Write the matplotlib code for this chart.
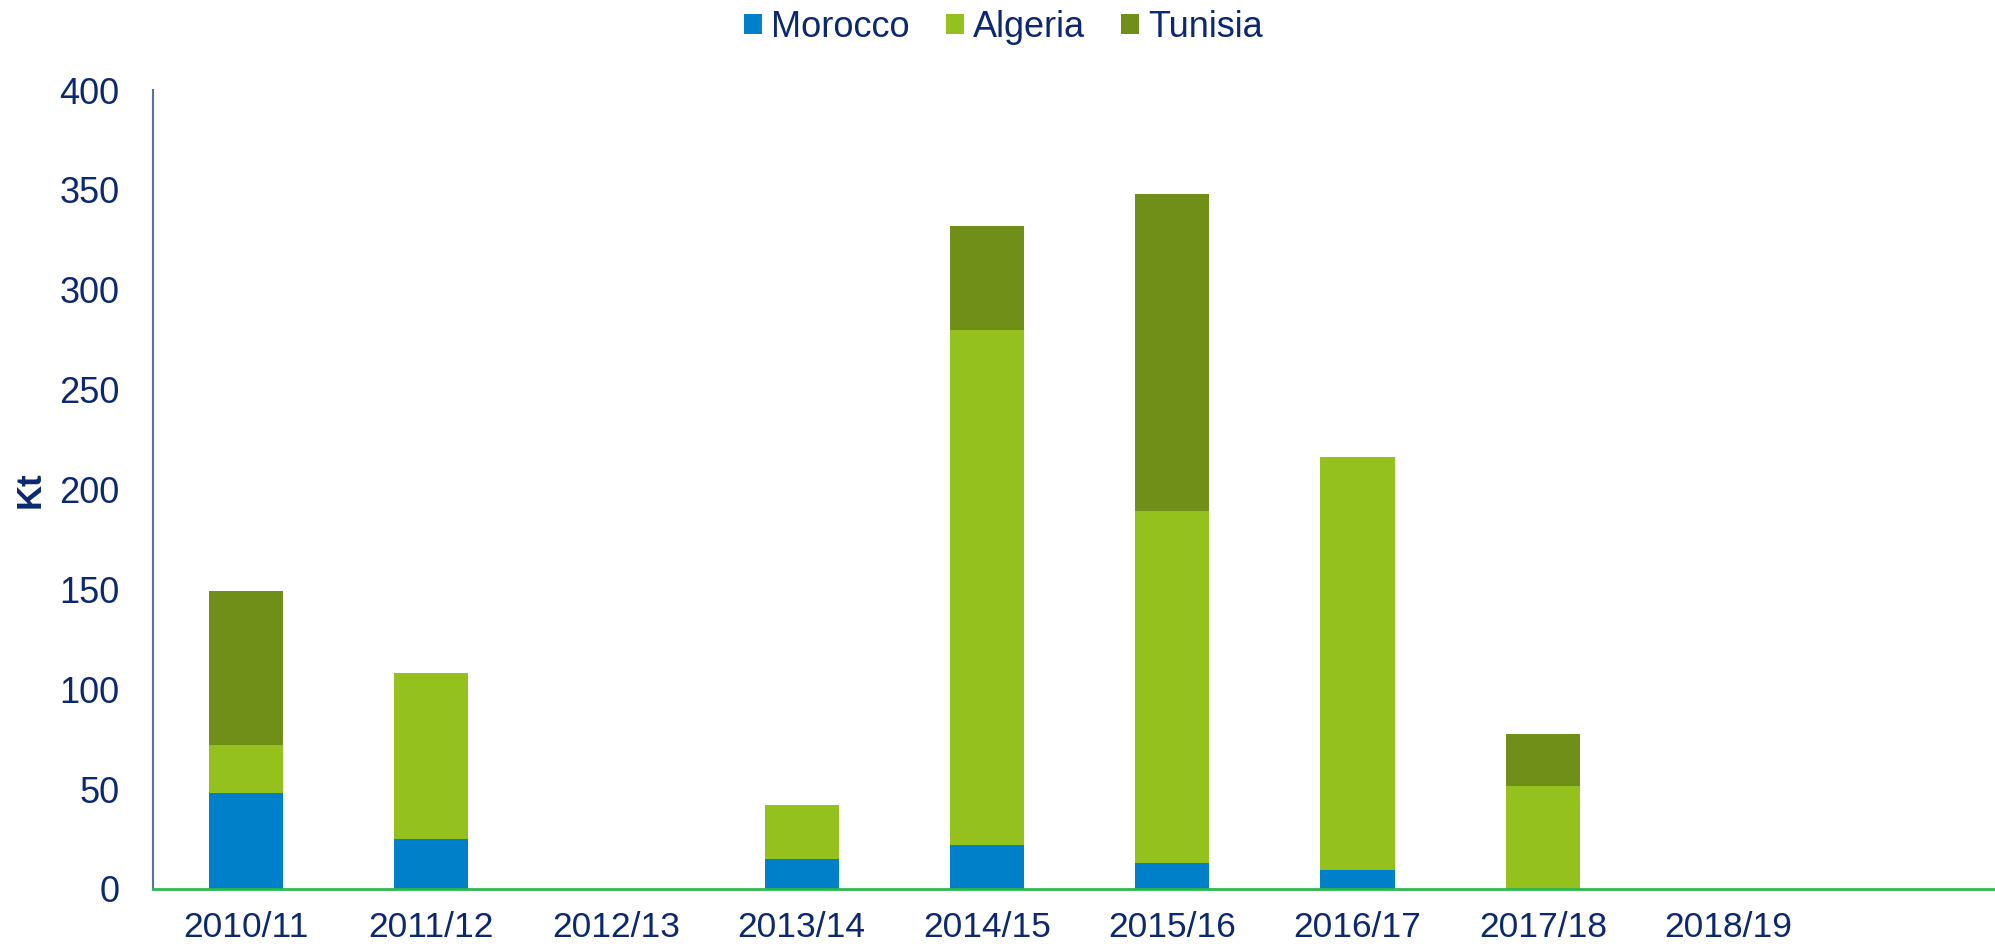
import matplotlib
matplotlib.use("Agg")
import matplotlib.pyplot as plt
import numpy as np

plt.rcParams["font.family"] = ["Liberation Sans", "DejaVu Sans"]

seasons = ["2010/11", "2011/12", "2012/13", "2013/14", "2014/15",
           "2015/16", "2016/17", "2017/18", "2018/19"]
morocco = [48, 25, 0, 15, 22, 13, 9.5, 0, 0]
algeria = [24, 83, 0, 27, 258, 176, 207, 51.5, 0]
tunisia = [77, 0, 0, 0, 52, 159, 0, 26, 0]

NAVY = "#0B2870"
colors = {"Morocco": "#0080C8", "Algeria": "#95C11F", "Tunisia": "#6F8F19"}

fig = plt.figure(figsize=(19.95, 9.51), dpi=100)
ax = fig.add_axes([153 / 1995, 1 - 889 / 951, 1 - 153 / 1995, (889 - 90) / 951])

x = np.arange(len(seasons))
bottom = np.zeros(len(seasons))
for name, vals in [("Morocco", morocco), ("Algeria", algeria), ("Tunisia", tunisia)]:
    vals = np.array(vals, dtype=float)
    ax.bar(x, vals, width=0.4, bottom=bottom, color=colors[name], label=name,
           edgecolor="none", zorder=2)
    bottom += vals

ax.set_xlim(-0.5, 9.44)
ax.set_ylim(0, 400)
ax.set_yticks(range(0, 401, 50))
ax.set_xticks(x, seasons)
ax.tick_params(axis="x", length=0, pad=16, labelsize=25.5, labelcolor=NAVY)
ax.tick_params(axis="y", length=0, pad=24, labelsize=26, labelcolor=NAVY)

for side in ["top", "right"]:
    ax.spines[side].set_visible(False)
ax.spines["left"].set_color("#5A6EA0")
ax.spines["left"].set_linewidth(1.5)
ax.spines["bottom"].set_color("#2EB84E")
ax.spines["bottom"].set_linewidth(2)
ax.spines["bottom"].set_zorder(3)

ax.set_ylabel("Kt", fontsize=25, fontweight="bold", color=NAVY)
ax.yaxis.set_label_coords(-0.058, 0.5)

fig.legend(loc="upper center", bbox_to_anchor=(0.503, 1.024), ncol=3, frameon=False,
           fontsize=26, labelcolor=NAVY, handlelength=0.5, handleheight=0.5,
           handletextpad=0.25, columnspacing=1.0)

fig.savefig("out.png", dpi=100)
